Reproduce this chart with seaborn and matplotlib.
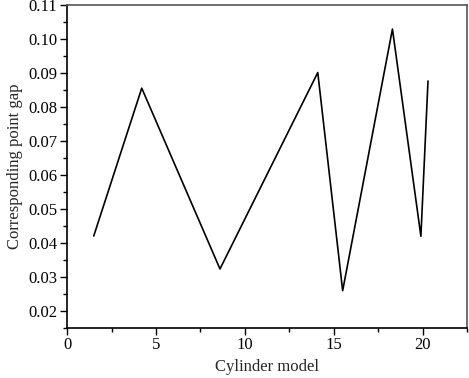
import pandas as pd
import matplotlib.pyplot as plt
import seaborn as sns
from matplotlib.ticker import MultipleLocator

# values
cylinder = [1.5, 4.2, 8.6, 14.1, 15.5, 18.3, 19.9, 20.3]
gap = [0.042, 0.0855, 0.0323, 0.0901, 0.0259, 0.1029, 0.0419, 0.0876]

df = pd.DataFrame({"Cylinder model": cylinder, "Corresponding point gap": gap})

sns.set_theme(style="ticks")
plt.rcParams["font.family"] = ["Liberation Serif", "DejaVu Serif"]

fig = plt.figure(figsize=(4.69, 3.78), dpi=100)
ax = fig.add_axes([0.143, 0.133, 0.853, 0.854])

sns.lineplot(data=df, x="Cylinder model", y="Corresponding point gap",
             sort=False, color="black", linewidth=1.2, ax=ax)

ax.set_xlim(0, 22.5)
ax.set_ylim(0.015, 0.11)
ax.xaxis.set_major_locator(MultipleLocator(5))
ax.xaxis.set_minor_locator(MultipleLocator(2.5))
ax.yaxis.set_major_locator(MultipleLocator(0.01))
ax.yaxis.set_minor_locator(MultipleLocator(0.005))
ax.yaxis.set_major_formatter(plt.FormatStrFormatter("%.2f"))

ax.tick_params(which="major", direction="out", length=5, width=1, labelsize=12,
               colors="black", pad=2)
ax.tick_params(which="minor", direction="out", length=3, width=1, colors="black")
for side in ["left", "bottom"]:
    ax.spines[side].set_color("black")
    ax.spines[side].set_linewidth(1.2)
for side in ["top", "right"]:
    ax.spines[side].set_visible(True)
    ax.spines[side].set_color("#555555")
    ax.spines[side].set_linewidth(1.2)

ax.set_xlabel("Cylinder model", fontsize=12, labelpad=4)
ax.set_ylabel("Corresponding point gap", fontsize=12, labelpad=4)

fig.savefig("out.png", dpi=100)
plt.close(fig)
